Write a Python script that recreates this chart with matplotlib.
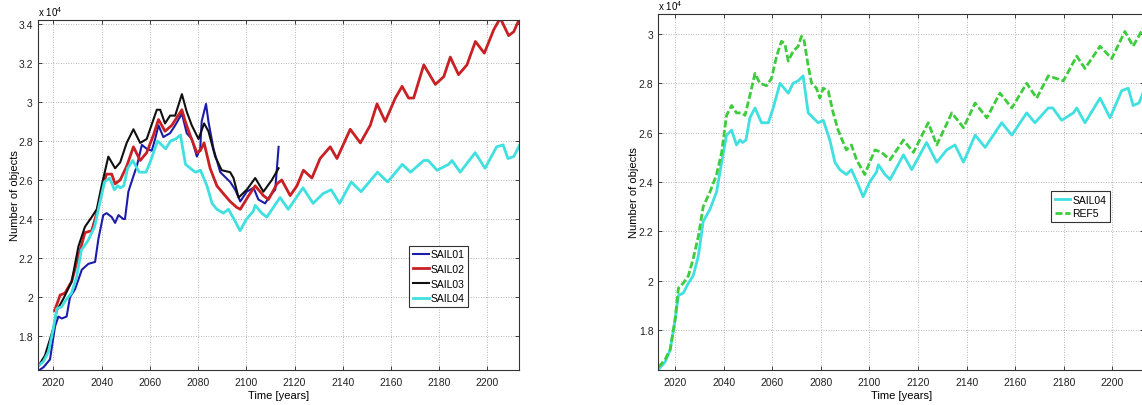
import matplotlib
matplotlib.use('Agg')
import matplotlib.pyplot as plt
from matplotlib.ticker import FuncFormatter

plt.rcParams['font.family'] = ['Liberation Sans', 'DejaVu Sans']
plt.rcParams['mathtext.default'] = 'regular'

# Number of objects (x 10^4) over time for each scenario
sail01_t = [2013.5, 2015.9, 2018.6, 2020.7, 2022.1, 2023.5, 2025.5, 2026.9, 2029.0, 2031.8,
            2034.5, 2037.3, 2038.7, 2040.7, 2042.1, 2044.2, 2045.6, 2047.0, 2049.0, 2049.7,
            2051.1, 2053.2, 2054.6, 2056.7, 2058.7, 2060.8, 2062.2, 2063.6, 2065.6, 2068.4,
            2070.5, 2073.3, 2075.3, 2077.4, 2079.5, 2080.9, 2081.5, 2083.3, 2084.3, 2086.4,
            2089.2, 2093.3, 2095.4, 2097.5, 2100.2, 2103.0, 2105.0, 2107.8, 2109.9, 2112.0,
            2113.4]
sail01_v = [1.62, 1.64, 1.68, 1.85, 1.90, 1.89, 1.90, 2.00, 2.04, 2.14,
            2.17, 2.18, 2.30, 2.42, 2.43, 2.41, 2.38, 2.42, 2.40, 2.40,
            2.54, 2.62, 2.67, 2.78, 2.76, 2.75, 2.81, 2.88, 2.82, 2.84,
            2.88, 2.94, 2.84, 2.81, 2.72, 2.76, 2.90, 2.99, 2.90, 2.76,
            2.64, 2.59, 2.55, 2.49, 2.54, 2.56, 2.50, 2.48, 2.52, 2.55,
            2.77]

sail02_t = [2020.5, 2022.8, 2024.8, 2027.6, 2030.4, 2033.1, 2035.9, 2038.0, 2040.0, 2042.0,
            2044.2, 2045.6, 2047.7, 2050.4, 2053.2, 2056.0, 2058.7, 2061.5, 2063.6, 2066.3,
            2069.1, 2073.3, 2074.7, 2076.7, 2079.5, 2080.9, 2082.5, 2085.0, 2087.8, 2090.5,
            2093.3, 2096.0, 2097.5, 2101.0, 2103.7, 2107.1, 2109.2, 2112.7, 2114.7, 2118.2,
            2121.0, 2123.7, 2127.2, 2130.6, 2134.8, 2137.6, 2143.1, 2147.3, 2151.4, 2154.2,
            2157.6, 2161.8, 2164.6, 2167.3, 2169.4, 2173.6, 2178.4, 2181.9, 2184.6, 2188.0,
            2191.5, 2195.0, 2198.7, 2202.6, 2205.3, 2208.8, 2210.9, 2213.4]
sail02_v = [1.93, 2.01, 2.02, 2.08, 2.21, 2.33, 2.34, 2.43, 2.54, 2.63,
            2.63, 2.58, 2.60, 2.67, 2.77, 2.70, 2.74, 2.83, 2.91, 2.85,
            2.88, 2.96, 2.90, 2.83, 2.74, 2.75, 2.79, 2.66, 2.57, 2.53,
            2.49, 2.46, 2.45, 2.52, 2.57, 2.52, 2.50, 2.58, 2.60, 2.52,
            2.57, 2.65, 2.61, 2.71, 2.77, 2.71, 2.86, 2.79, 2.88, 2.99,
            2.90, 3.02, 3.08, 3.02, 3.02, 3.19, 3.09, 3.13, 3.23, 3.14,
            3.19, 3.31, 3.25, 3.37, 3.43, 3.34, 3.36, 3.43]

sail03_t = [2013.5, 2016.5, 2020.0, 2021.4, 2024.1, 2027.6, 2030.4, 2033.1, 2035.9, 2038.0,
            2040.0, 2042.8, 2045.6, 2047.7, 2050.4, 2053.2, 2056.0, 2058.7, 2061.5, 2062.9,
            2064.3, 2066.3, 2068.4, 2070.5, 2073.3, 2075.3, 2077.4, 2080.2, 2082.5, 2084.3,
            2087.1, 2089.8, 2093.3, 2094.7, 2096.8, 2100.2, 2103.7, 2107.1, 2110.6, 2113.4]
sail03_v = [1.64, 1.70, 1.84, 1.93, 1.99, 2.08, 2.26, 2.36, 2.41, 2.45,
            2.57, 2.72, 2.66, 2.69, 2.79, 2.86, 2.79, 2.81, 2.91, 2.96,
            2.96, 2.89, 2.93, 2.93, 3.04, 2.95, 2.88, 2.81, 2.89, 2.85,
            2.72, 2.65, 2.64, 2.61, 2.51, 2.55, 2.61, 2.54, 2.60, 2.66]

sail04_t = [2013.2, 2015.9, 2018.0, 2020.0, 2021.4, 2023.4, 2025.5, 2027.5, 2029.6, 2031.6,
            2034.4, 2037.1, 2039.2, 2041.2, 2043.3, 2045.3, 2046.7, 2047.8, 2049.2, 2050.8,
            2052.9, 2055.6, 2058.4, 2060.4, 2063.2, 2066.6, 2068.6, 2070.7, 2072.7, 2074.8,
            2076.8, 2078.9, 2081.0, 2083.7, 2085.8, 2087.8, 2090.5, 2092.6, 2095.3, 2097.4,
            2100.1, 2102.9, 2103.7, 2106.4, 2108.5, 2114.0, 2117.4, 2123.5, 2127.7, 2131.8,
            2135.2, 2138.7, 2143.5, 2147.6, 2154.4, 2158.6, 2164.7, 2168.1, 2173.6, 2175.4,
            2179.1, 2183.9, 2185.3, 2188.7, 2194.9, 2199.0, 2203.8, 2206.5, 2208.5, 2210.9,
            2213.4]
sail04_v = [1.64, 1.67, 1.72, 1.84, 1.94, 1.95, 1.99, 2.02, 2.10, 2.24,
            2.29, 2.36, 2.48, 2.59, 2.61, 2.55, 2.57, 2.56, 2.57, 2.66,
            2.70, 2.64, 2.64, 2.70, 2.80, 2.76, 2.80, 2.81, 2.83, 2.68,
            2.66, 2.64, 2.65, 2.57, 2.48, 2.45, 2.43, 2.45, 2.39, 2.34,
            2.40, 2.44, 2.47, 2.43, 2.41, 2.51, 2.45, 2.56, 2.48, 2.53,
            2.55, 2.48, 2.59, 2.54, 2.64, 2.59, 2.68, 2.64, 2.70, 2.70,
            2.65, 2.68, 2.70, 2.64, 2.74, 2.66, 2.77, 2.78, 2.71, 2.72,
            2.78]

ref5_t = [2013.2, 2015.9, 2018.0, 2020.0, 2021.4, 2023.4, 2025.5, 2027.5, 2029.6, 2031.6,
          2034.4, 2037.1, 2039.2, 2041.2, 2043.3, 2045.3, 2047.4, 2048.8, 2050.8, 2052.9,
          2054.9, 2057.7, 2059.7, 2061.8, 2063.8, 2065.2, 2066.6, 2068.6, 2070.7, 2072.0,
          2073.0, 2074.8, 2076.2, 2078.2, 2079.6, 2081.0, 2083.0, 2085.1, 2087.1, 2089.2,
          2090.5, 2092.6, 2094.7, 2098.1, 2100.1, 2102.3, 2105.0, 2108.5, 2114.0, 2118.1,
          2124.2, 2127.7, 2133.9, 2138.7, 2143.5, 2148.3, 2153.7, 2158.6, 2164.7, 2168.8,
          2173.6, 2179.8, 2185.3, 2188.7, 2194.9, 2199.7, 2205.1, 2208.5, 2213.0]
ref5_v = [1.65, 1.68, 1.72, 1.84, 1.97, 1.99, 2.02, 2.09, 2.18, 2.30,
          2.36, 2.43, 2.52, 2.67, 2.71, 2.68, 2.68, 2.67, 2.75, 2.84,
          2.80, 2.79, 2.82, 2.91, 2.97, 2.96, 2.89, 2.93, 2.95, 2.99,
          2.98, 2.87, 2.80, 2.78, 2.74, 2.78, 2.77, 2.68, 2.61, 2.56,
          2.53, 2.55, 2.49, 2.43, 2.48, 2.53, 2.52, 2.49, 2.57, 2.52,
          2.64, 2.55, 2.68, 2.62, 2.72, 2.66, 2.76, 2.70, 2.80, 2.74,
          2.83, 2.81, 2.91, 2.86, 2.95, 2.90, 3.01, 2.95, 3.03]

x_ticks = [2020, 2040, 2060, 2080, 2100, 2120, 2140, 2160, 2180, 2200]
left_yticks = [1.8, 2.0, 2.2, 2.4, 2.6, 2.8, 3.0, 3.2, 3.4]
right_yticks = [1.8, 2.0, 2.2, 2.4, 2.6, 2.8, 3.0]

c_blue = '#1c1caa'
c_red = '#c82024'
c_black = '#101010'
c_cyan = '#40e0e0'
c_green = '#3ccc3c'

fig = plt.figure(figsize=(11.42, 4.06), dpi=100)
ax1 = fig.add_axes([0.033, 0.0862, 0.4215, 0.863])
ax2 = fig.add_axes([0.5764, 0.0862, 0.4254, 0.877])

ax1.plot(sail01_t, sail01_v, color=c_blue, lw=1.5, label='SAIL01')
ax1.plot(sail02_t, sail02_v, color=c_red, lw=2.0, label='SAIL02')
ax1.plot(sail03_t, sail03_v, color=c_black, lw=1.5, label='SAIL03')
ax1.plot(sail04_t, sail04_v, color=c_cyan, lw=2.0, label='SAIL04')
ax1.set_xlim(2013.5, 2213.1)
ax1.set_ylim(1.626, 3.422)
ax1.set_yticks(left_yticks)

ax2.plot(sail04_t, sail04_v, color=c_cyan, lw=2.0, label='SAIL04')
ax2.plot(ref5_t, ref5_v, color=c_green, lw=2.0, ls=(0, (2.5, 1.0)), label='REF5')
ax2.set_xlim(2013.1, 2213.0)
ax2.set_ylim(1.638, 3.081)
ax2.set_yticks(right_yticks)

fmt = FuncFormatter(lambda v, pos: '%g' % round(v, 1))
for ax in (ax1, ax2):
    ax.set_xticks(x_ticks)
    ax.yaxis.set_major_formatter(fmt)
    ax.grid(True, color='#a0a0a0', lw=0.6, ls=(0, (1, 2)))
    ax.tick_params(direction='in', length=3, width=0.6, labelsize=7.5,
                   top=True, right=True, colors='#222222')
    ax.tick_params(axis='x', pad=5)
    ax.tick_params(axis='y', pad=3.5)
    for s in ax.spines.values():
        s.set_linewidth(0.8)
        s.set_color('#333333')
    ax.set_xlabel('Time [years]', fontsize=8, labelpad=2.5)

ax1.set_ylabel('Number of objects', fontsize=8, labelpad=-1.5)
ax2.set_ylabel('Number of objects', fontsize=8, labelpad=0)

ax1.text(0.0, 1.005, r'x 10$^{4}$', transform=ax1.transAxes, fontsize=7, va='bottom')
ax2.text(0.0, 1.005, r'x 10$^{4}$', transform=ax2.transAxes, fontsize=7, va='bottom')

leg1 = ax1.legend(loc='lower right', bbox_to_anchor=(0.895, 0.18), fontsize=7.5,
                  fancybox=False, handlelength=1.5, handletextpad=0.2,
                  labelspacing=0.45, borderpad=0.35, borderaxespad=0)
leg2 = ax2.legend(loc='lower right', bbox_to_anchor=(0.93, 0.416), fontsize=7.5,
                  fancybox=False, handlelength=1.5, handletextpad=0.2,
                  labelspacing=0.35, borderpad=0.35, borderaxespad=0)
for leg in (leg1, leg2):
    leg.get_frame().set_edgecolor('#333333')
    leg.get_frame().set_linewidth(0.8)
    leg.get_frame().set_alpha(1)

fig.savefig('out.png', dpi=100)
